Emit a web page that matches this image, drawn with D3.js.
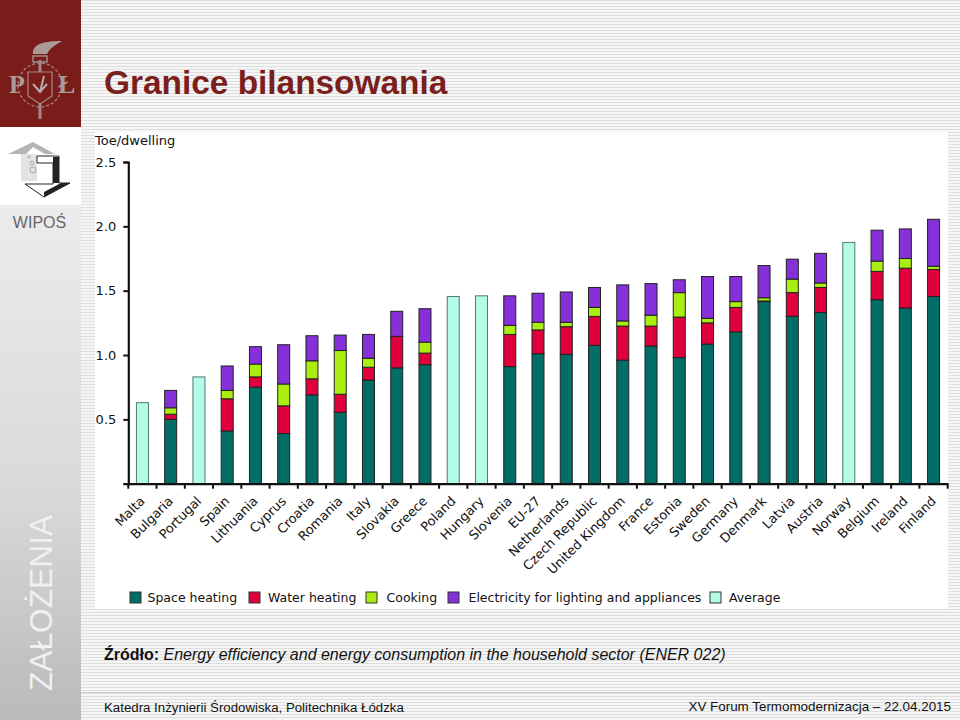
<!DOCTYPE html>
<html><head><meta charset="utf-8">
<script src="https://cdn.jsdelivr.net/npm/d3@7"></script>
<style>html,body{margin:0;padding:0;background:#fff}svg{display:block}</style>
</head><body><div id="c"></div>
<script>
const categories=["Malta","Bulgaria","Portugal","Spain","Lithuania","Cyprus","Croatia","Romania","Italy","Slovakia","Greece","Poland","Hungary","Slovenia","EU-27","Netherlands","Czech Republic","United Kingdom","France","Estonia","Sweden","Germany","Denmark","Latvia","Austria","Norway","Belgium","Ireland","Finland"];
const spaceHeating=[0,.50,0,.41,.75,.39,.69,.555,.805,.90,.925,0,0,.91,1.01,1.005,1.075,.96,1.07,.98,1.085,1.18,1.415,1.30,1.33,0,1.43,1.365,1.455];
const waterHeating=[0,.04,0,.25,.08,.215,.125,.14,.10,.245,.09,0,0,.25,.185,.215,.225,.265,.155,.315,.165,.19,.005,.185,.195,0,.22,.31,.21];
const cooking=[0,.05,0,.065,.10,.17,.14,.34,.07,0,.085,0,0,.07,.06,.035,.07,.04,.085,.19,.035,.045,.025,.105,.035,0,.08,.075,.025];
const electricity=[0,.135,0,.19,.135,.305,.195,.12,.185,.195,.26,0,0,.23,.225,.235,.155,.28,.245,.10,.325,.195,.25,.155,.23,0,.24,.23,.365];
const average=[.63,0,.83,0,0,0,0,0,0,0,0,1.455,1.46,0,0,0,0,0,0,0,0,0,0,0,0,1.875,0,0,0];
const yTicks=[.5,1,1.5,2,2.5];
const seriesNames=["Space heating","Water heating","Cooking","Electricity for lighting and appliances","Average"];
const seriesColors=["#006d66","#e0003c","#aaee11","#8530d8","#b4fbe8"];
const seriesValues=[spaceHeating,waterHeating,cooking,electricity,average];
const titleText="Granice bilansowania",yUnit="Toe/dwelling",sideText="ZAŁOŻENIA",wipos="WIPOŚ";
const W=960,H=720;
const svg=d3.select("#c").append("svg").attr("width",W).attr("height",H);
const defs=svg.append("defs");
const p=defs.append("pattern").attr("id","st").attr("width",4).attr("height",3).attr("patternUnits","userSpaceOnUse");
p.append("rect").attr("width",4).attr("height",3).attr("fill","#f6f6f6");
p.append("rect").attr("width",4).attr("height",1).attr("fill","#dedede");
const g=defs.append("linearGradient").attr("id","side").attr("x1",0).attr("y1",0).attr("x2",0).attr("y2",1);
g.append("stop").attr("offset",0).attr("stop-color","#f1f1f1");
g.append("stop").attr("offset",.6).attr("stop-color","#dadada");
g.append("stop").attr("offset",1).attr("stop-color","#bababa");
svg.append("rect").attr("width",W).attr("height",H).attr("fill","url(#st)");
svg.append("rect").attr("x",0).attr("y",127).attr("width",81).attr("height",593).attr("fill","url(#side)");
svg.append("rect").attr("x",0).attr("y",127).attr("width",81).attr("height",78).attr("fill","#fff");
svg.append("rect").attr("x",0).attr("y",0).attr("width",81).attr("height",127).attr("fill","#7a1c1a");
// crest
const crest=svg.append("g").attr("fill","none").attr("stroke","#a08a88");
crest.append("circle").attr("cx",40).attr("cy",85).attr("r",22).attr("stroke-dasharray","3 2").attr("stroke-width",1.2);
crest.append("path").attr("d","M28 72H52V96L40 104L28 96Z").attr("stroke-width",1.2);
crest.append("path").attr("d","M40 60V72M40 104V119").attr("stroke-width",3);
crest.append("path").attr("d","M33 56H47V62H33Z").attr("stroke-width",1.5);
crest.append("path").attr("d","M33 54C32 44 44 41 62 41C54 46 50 48 47 54Z").attr("fill","#a99a98").attr("stroke","none");
crest.append("path").attr("d","M33 84L40 92L47 84M40 92L44 76").attr("stroke","#b9aaa8").attr("stroke-width",2);
crest.append("text").attr("x",9).attr("y",93).text("P").attr("font-family","Liberation Serif").attr("font-weight","bold").attr("font-size",26).attr("fill","#a99a98").attr("stroke","none");
crest.append("text").attr("x",58).attr("y",93).text("Ł").attr("font-family","Liberation Serif").attr("font-weight","bold").attr("font-size",26).attr("fill","#a99a98").attr("stroke","none");
// house logo
const logo=svg.append("g");
logo.append("path").attr("d","M8 154L33 142L55 154H45L33 147L26 154V181H21V154Z").attr("fill","#b5b5b5");
logo.append("path").attr("d","M21 154H37V181H21Z").attr("fill","#e3e3e3");
logo.append("path").attr("d","M37 156H59V183H70L44 197L25 184H53V163H37Z").attr("fill","#fff").attr("stroke","#222").attr("stroke-width",1);
logo.append("path").attr("d","M53 157H59V183H53ZM44 197L70 183L61 183L44 192Z").attr("fill","#222");
logo.selectAll("circle").data([[33,170,3],[32,163,2],[29,157,1]]).join("circle").attr("cx",d=>d[0]).attr("cy",d=>d[1]).attr("r",d=>d[2]).attr("fill","none").attr("stroke","#aaa");
svg.append("text").attr("x",39.5).attr("y",227.5).attr("text-anchor","middle").attr("font-family","Liberation Sans").attr("font-size",16).attr("fill","#666").text(wipos);
svg.append("text").attr("transform","translate(52,691) rotate(-90)").attr("font-family","Liberation Sans").attr("font-size",31.7).attr("fill","#f0f0f0").text(sideText);
svg.append("text").attr("x",104).attr("y",94).attr("font-family","Liberation Sans").attr("font-weight","bold").attr("font-size",33.4).attr("fill","#7a1f1c").text(titleText);
// chart panel
svg.append("rect").attr("x",95).attr("y",132).attr("width",853).attr("height",477).attr("fill","#fff");
const x=d3.scaleBand().domain(categories).range([128.3,947.7]).paddingInner(.575).paddingOuter(.2875);
const y=d3.scaleLinear().domain([0,2.5]).range([483.7,162]);
const stackKeys=[0,1,2,3,4];
const rows=categories.map((c,i)=>{const r={c};stackKeys.forEach(k=>r[k]=seriesValues[k][i]);return r});
const stack=d3.stack().keys(stackKeys)(rows);
svg.append("g").selectAll("g").data(stack).join("g").attr("fill",(d,i)=>seriesColors[i]).attr("stroke",(d,i)=>i===4?"#4f7a74":"#222").attr("stroke-width",1)
 .selectAll("rect").data(d=>d.filter(v=>v[1]>v[0])).join("rect")
 .attr("x",d=>x(d.data.c)).attr("width",x.bandwidth()).attr("y",d=>y(d[1])).attr("height",d=>y(d[0])-y(d[1]));
const fam="'DejaVu Sans'";
const yA=svg.append("g").attr("transform","translate(128.3,0)").call(d3.axisLeft(y).tickValues(yTicks).tickFormat(d3.format(".1f")).tickSize(5).tickPadding(7));
const step=x.step();
const xA=svg.append("g").attr("transform","translate(0,483.7)").call(d3.axisBottom(x).tickSize(0).tickFormat(d=>d));
xA.selectAll("text").attr("text-anchor","end").attr("font-family",fam).attr("font-size",12.9).attr("fill","#111").attr("transform","translate(0,15) rotate(-45)").attr("dy",".35em").attr("y",0).attr("x",0);
xA.append("g").selectAll("line").data(d3.range(categories.length+1)).join("line").attr("x1",i=>128.3+i*step).attr("x2",i=>128.3+i*step).attr("y1",0).attr("y2",5).attr("stroke","#111").attr("stroke-width",2);
[yA,xA].forEach(a=>{a.select(".domain").attr("stroke","#111").attr("stroke-width",2.2);a.selectAll(".tick line").attr("stroke","#111").attr("stroke-width",2)});
yA.selectAll("text").attr("font-family",fam).attr("font-size",13).attr("fill","#111");
svg.append("text").attr("x",95).attr("y",145).attr("font-family",fam).attr("font-size",13).attr("fill","#111").text(yUnit);
// legend
const legX=[130,249,366,448,710];
const leg=svg.append("g").selectAll("g").data(seriesNames).join("g").attr("transform",(d,i)=>`translate(${legX[i]},597)`);
leg.append("rect").attr("width",11).attr("height",11).attr("y",-5).attr("fill",(d,i)=>seriesColors[i]).attr("stroke","#333");
leg.append("text").attr("x",(d,i)=>[17.5,19,20.5,20.5,19][i]).attr("y",5).attr("font-family",fam).attr("font-size",12.5).attr("fill","#111").text(d=>d);
// source + footer
const src=svg.append("text").attr("x",104).attr("y",660).attr("font-family","Liberation Sans").attr("font-size",16).attr("fill","#111");
src.append("tspan").attr("font-weight","bold").text("Źródło: ");
src.append("tspan").attr("font-style","italic").text("Energy efficiency and energy consumption in the household sector (ENER 022)");
svg.append("line").attr("x1",81).attr("x2",960).attr("y1",692.5).attr("y2",692.5).attr("stroke","#ccc");
svg.append("text").attr("x",104).attr("y",712).attr("font-family","Liberation Sans").attr("font-size",13.25).attr("fill","#111").text("Katedra Inżynierii Środowiska, Politechnika Łódzka");
svg.append("text").attr("x",951).attr("y",711).attr("text-anchor","end").attr("font-family","Liberation Sans").attr("font-size",13.4).attr("fill","#111").text("XV Forum Termomodernizacja – 22.04.2015");
</script></body></html>
